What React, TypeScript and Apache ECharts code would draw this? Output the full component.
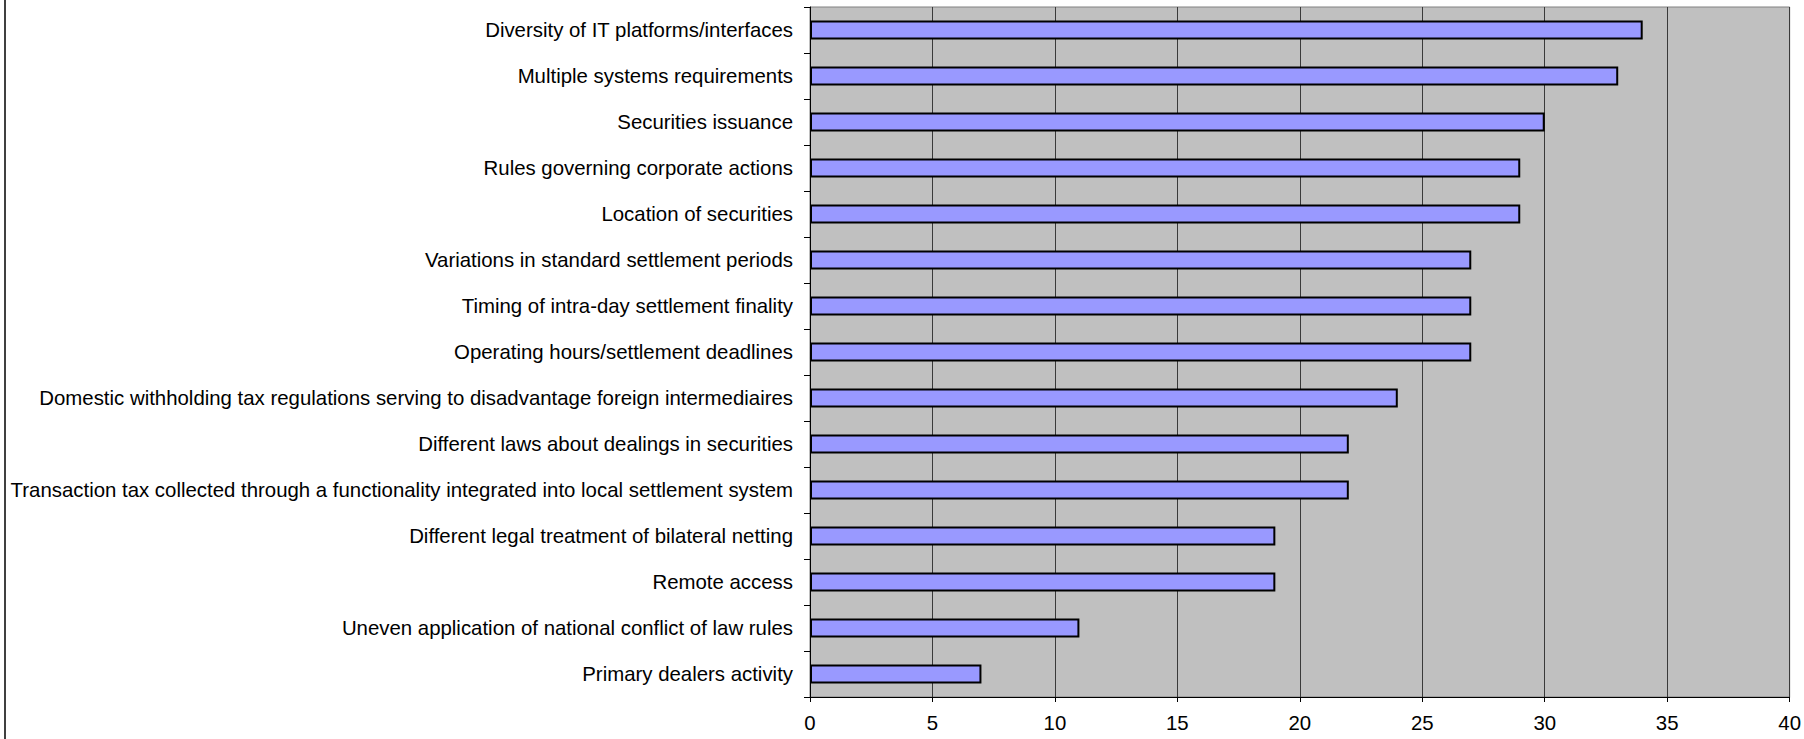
import React, { useEffect, useRef } from "react";
import * as echarts from "echarts";

// Survey categories, listed bottom to top as drawn on the category axis
const categories: string[] = [
  "Primary dealers activity",
  "Uneven application of national conflict of law rules",
  "Remote access",
  "Different legal treatment of bilateral netting",
  "Transaction tax collected through a functionality integrated into local settlement system",
  "Different laws about dealings in securities",
  "Domestic withholding tax regulations serving to disadvantage foreign intermediaires",
  "Operating hours/settlement deadlines",
  "Timing of intra-day settlement finality",
  "Variations in standard settlement periods",
  "Location of securities",
  "Rules governing corporate actions",
  "Securities issuance",
  "Multiple systems requirements",
  "Diversity of IT platforms/interfaces",
];

const values: number[] = [7, 11, 19, 19, 22, 22, 24, 27, 27, 27, 29, 29, 30, 33, 34];

const xMin = 0;
const xMax = 40;
const xStep = 5;

const FONT = "'Liberation Sans', Arial, sans-serif";

export default function App() {
  const ref = useRef<HTMLDivElement>(null);

  useEffect(() => {
    if (!ref.current) return;
    const chart = echarts.init(ref.current, undefined, { renderer: "svg" });
    chart.setOption({
      animation: false,
      backgroundColor: "#ffffff",
      textStyle: { fontFamily: FONT },
      grid: {
        left: 810,
        right: 13,
        top: 7,
        bottom: 42,
        show: true,
        backgroundColor: "#c0c0c0",
        borderColor: "#808080",
        borderWidth: 1,
      },
      xAxis: {
        type: "value",
        min: xMin,
        max: xMax,
        interval: xStep,
        axisLine: { show: true, lineStyle: { color: "#000", width: 1 } },
        axisTick: { show: true, length: 5, lineStyle: { color: "#000" } },
        axisLabel: {
          color: "#000",
          fontSize: 20.4,
          fontFamily: FONT,
          margin: 16,
        },
        splitLine: { show: true, lineStyle: { color: "#3a3a3a", width: 1 } },
      },
      yAxis: {
        type: "category",
        data: categories,
        boundaryGap: true,
        axisLine: { show: true, lineStyle: { color: "#000", width: 1 } },
        axisTick: { show: true, length: 6, lineStyle: { color: "#000" } },
        axisLabel: {
          color: "#000",
          fontSize: 20.4,
          fontFamily: FONT,
          margin: 17,
        },
        splitLine: { show: false },
      },
      series: [
        {
          type: "bar",
          data: values,
          barWidth: 19,
          itemStyle: {
            color: "#9999ff",
            borderColor: "#000",
            borderWidth: 2,
          },
          z: 3,
        },
      ],
      graphic: [
        {
          type: "line",
          shape: { x1: 5, y1: 0, x2: 5, y2: 739 },
          style: { stroke: "#404040", lineWidth: 2 },
        },
      ],
    });
    return () => chart.dispose();
  }, []);

  return (
    <div
      ref={ref}
      style={{ position: "fixed", left: 0, top: 0, width: 1804, height: 739 }}
    />
  );
}
